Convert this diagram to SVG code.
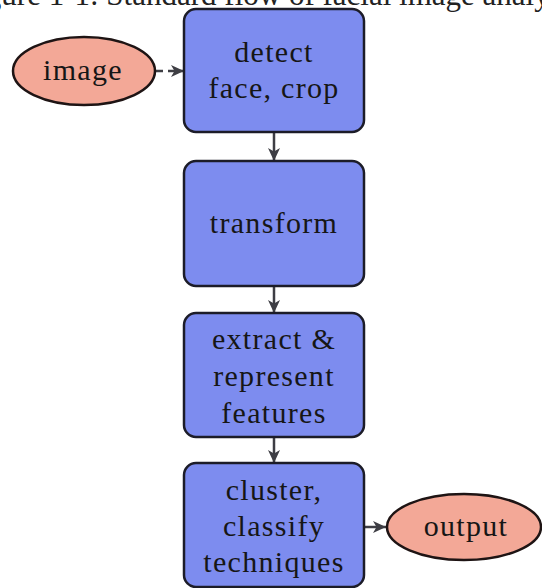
<svg xmlns="http://www.w3.org/2000/svg" width="542" height="588" viewBox="0 0 542 588">
<style>
.box{fill:#7d8cef;stroke:#1c1c28;stroke-width:2.5}
.ell{fill:#f3a897;stroke:#1e1414;stroke-width:2.5}
.t{font-family:"Liberation Serif","Times New Roman",serif;font-size:30px;fill:#161616;text-anchor:middle;letter-spacing:1.3px}
.cap{font-family:"Liberation Serif","Times New Roman",serif;font-size:31px;fill:#222}
.c{stroke:#3e3e44;stroke-width:2.5;fill:none}
</style>
<defs>
<marker id="ah" markerUnits="userSpaceOnUse" markerWidth="14" markerHeight="12" refX="13" refY="6" orient="auto">
<path d="M0,0 L13,6 L0,12 L3.5,6 z" fill="#3e3e44"/>
</marker>
</defs>
<text class="cap" x="-40" y="5">Figure 1-1: Standard flow of facial image analysis</text>
<g id="connectors">
<line class="c" x1="156" y1="71" x2="184" y2="71" stroke-dasharray="7 5" marker-end="url(#ah)"/>
<line class="c" x1="274" y1="132" x2="274" y2="161" marker-end="url(#ah)"/>
<line class="c" x1="274" y1="286" x2="274" y2="313" marker-end="url(#ah)"/>
<line class="c" x1="274" y1="437" x2="274" y2="463" marker-end="url(#ah)"/>
<line class="c" x1="365" y1="527" x2="386" y2="527" marker-end="url(#ah)"/>
</g>
<g id="image">
<ellipse class="ell" cx="84" cy="71" rx="71" ry="34"/>
<text class="t" x="83" y="80">image</text>
</g>
<g id="detect">
<rect class="box" x="184" y="9" width="180" height="123" rx="12"/>
<text class="t" x="274" y="62">detect</text>
<text class="t" x="274" y="98">face, crop</text>
</g>
<g id="transform">
<rect class="box" x="184" y="161" width="180" height="125" rx="12"/>
<text class="t" x="274" y="233">transform</text>
</g>
<g id="extract">
<rect class="box" x="184" y="313" width="180" height="124" rx="12"/>
<text class="t" x="274" y="349">extract &amp;</text>
<text class="t" x="274" y="386">represent</text>
<text class="t" x="274" y="423">features</text>
</g>
<g id="cluster">
<rect class="box" x="184" y="463" width="180" height="124" rx="12"/>
<text class="t" x="274" y="500">cluster,</text>
<text class="t" x="274" y="536">classify</text>
<text class="t" x="274" y="572">techniques</text>
</g>
<g id="output">
<ellipse class="ell" cx="464" cy="527" rx="77" ry="33"/>
<text class="t" x="466" y="536">output</text>
</g>
</svg>
